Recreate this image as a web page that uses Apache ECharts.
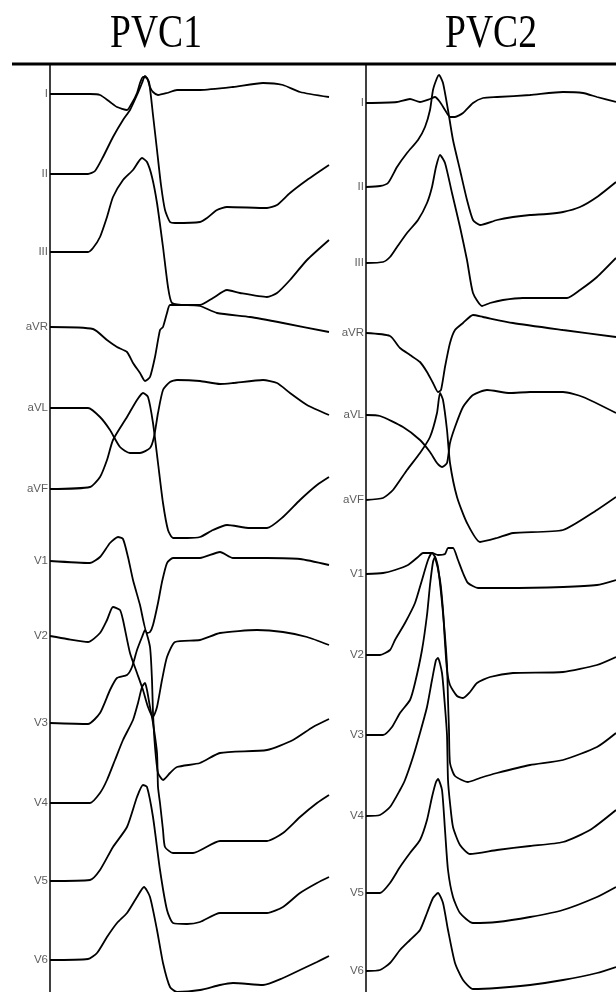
<!DOCTYPE html>
<html>
<head>
<meta charset="utf-8">
<script src="https://cdn.jsdelivr.net/npm/echarts@6/dist/echarts.min.js"></script>
<style>
  html, body { margin: 0; padding: 0; background: #fff; }
  #chart { width: 616px; height: 992px; }
</style>
</head>
<body>
<div id="chart"></div>
<script>
// lead names, top to bottom
var leads = ['I', 'II', 'III', 'aVR', 'aVL', 'aVF', 'V1', 'V2', 'V3', 'V4', 'V5', 'V6'];

// PVC1 traces: [sample, amplitude] (amplitude positive up)
var pvc1_I   = [[0,0],[40,0],[50,-1],[60,-8],[67,-13],[77,-16],[82,-9],[87,1],[90,11],[93,17],[97,16],[100,7],[103,2],[108,-1],[117,1],[127,4],[150,4],[183,7],[213,11],[233,9],[250,2],[279,-3]];
var pvc1_II  = [[0,0],[38,0],[45,3],[53,17],[63,37],[73,54],[80,64],[87,79],[92,91],[95,98],[99,92],[103,59],[107,24],[111,-11],[115,-36],[120,-48],[125,-49],[150,-48],[157,-44],[167,-36],[177,-33],[217,-34],[227,-31],[240,-19],[257,-6],[279,9]];
var pvc1_III = [[0,0],[38,0],[43,4],[50,15],[57,35],[63,55],[73,72],[83,82],[92,94],[97,90],[102,75],[107,49],[113,5],[118,-35],[122,-51],[137,-53],[150,-53],[163,-46],[177,-38],[190,-41],[217,-45],[227,-41],[240,-28],[257,-8],[279,12]];
var pvc1_aVR = [[0,0],[43,-2],[57,-13],[67,-20],[77,-25],[83,-36],[90,-46],[95,-54],[100,-50],[105,-30],[110,-3],[113,0],[117,14],[120,22],[137,22],[150,21],[167,14],[200,10],[233,4],[279,-5]];
var pvc1_aVL = [[0,0],[38,0],[50,-9],[60,-22],[70,-39],[80,-45],[90,-45],[100,-40],[104,-29],[108,-5],[113,18],[120,26],[127,28],[150,27],[170,24],[183,25],[213,28],[227,25],[240,15],[257,3],[279,-7]];
var pvc1_aVF = [[0,0],[40,2],[50,12],[57,29],[63,49],[77,72],[87,89],[93,96],[98,92],[103,66],[108,26],[113,-14],[118,-41],[123,-49],[137,-49],[150,-48],[163,-41],[177,-36],[200,-39],[217,-39],[233,-28],[250,-11],[267,4],[279,12]];
var pvc1_V1  = [[0,0],[40,-2],[50,4],[60,18],[68,24],[73,22],[78,4],[83,-19],[90,-44],[97,-72],[100,-71],[103,-64],[108,-42],[112,-21],[117,-2],[123,3],[150,3],[170,9],[183,3],[217,3],[250,2],[279,-4]];
var pvc1_V2  = [[0,0],[17,-3],[38,-6],[50,3],[57,16],[63,29],[70,26],[73,16],[80,-17],[87,-37],[93,-54],[98,-71],[103,-81],[107,-71],[112,-44],[117,-21],[125,-6],[150,-4],[170,3],[207,6],[233,4],[257,-1],[279,-9]];
var pvc1_V3  = [[0,0],[38,-1],[50,10],[60,33],[67,45],[77,48],[82,56],[87,73],[92,86],[95,93],[100,76],[102,43],[103,10],[105,-24],[108,-50],[113,-57],[120,-50],[127,-44],[150,-40],[170,-30],[217,-27],[243,-17],[263,-4],[279,4]];
var pvc1_V4  = [[0,0],[40,0],[50,10],[57,23],[65,43],[73,63],[83,83],[88,100],[92,116],[95,120],[97,113],[100,96],[103,80],[107,50],[108,16],[110,0],[113,-27],[115,-44],[123,-50],[143,-50],[170,-38],[217,-38],[233,-30],[250,-14],[267,0],[279,8]];
var pvc1_V5  = [[0,0],[40,1],[50,11],[63,34],[77,54],[87,84],[93,96],[97,94],[103,64],[110,11],[117,-29],[123,-42],[137,-43],[150,-41],[170,-32],[217,-32],[233,-26],[250,-12],[267,-2],[279,4]];
var pvc1_V6  = [[0,0],[38,1],[47,7],[57,23],[67,37],[77,47],[87,63],[94,73],[100,63],[107,30],[113,-3],[120,-27],[127,-32],[150,-30],[170,-25],[183,-23],[213,-25],[233,-18],[250,-10],[267,-2],[279,4]];

// PVC2 traces
var pvc2_I   = [[0,0],[31,1],[44,4],[54,1],[64,4],[69,6],[74,1],[79,-7],[84,-14],[89,-14],[97,-10],[107,0],[117,5],[131,6],[164,8],[197,11],[217,10],[231,6],[250,1]];
var pvc2_II  = [[0,0],[14,1],[22,4],[31,20],[41,34],[52,47],[59,60],[64,77],[67,97],[71,109],[73,112],[77,104],[82,77],[87,47],[94,17],[101,-13],[107,-33],[114,-38],[131,-33],[147,-30],[164,-28],[181,-27],[197,-25],[214,-20],[231,-10],[250,5]];
var pvc2_III = [[0,0],[17,1],[24,6],[31,16],[41,30],[52,43],[61,60],[66,76],[70,96],[74,108],[79,100],[86,70],[94,36],[101,3],[107,-30],[116,-43],[124,-40],[137,-37],[157,-35],[201,-35],[214,-27],[231,-14],[250,5]];
var pvc2_aVR = [[0,0],[24,-3],[34,-15],[44,-22],[54,-29],[61,-39],[67,-50],[72,-59],[75,-57],[79,-34],[84,-10],[89,3],[97,10],[107,18],[117,16],[147,10],[197,3],[250,-4]];
var pvc2_aVL = [[0,0],[14,-1],[37,-12],[54,-25],[64,-37],[71,-48],[76,-52],[81,-48],[84,-28],[89,-12],[97,8],[107,20],[121,25],[144,22],[164,23],[197,23],[217,18],[250,2]];
var pvc2_aVF = [[0,0],[17,2],[27,10],[41,30],[54,47],[64,63],[71,87],[74,107],[77,100],[81,70],[84,37],[91,3],[101,-23],[114,-42],[131,-38],[147,-33],[197,-30],[231,-10],[250,3]];
var pvc2_V1  = [[0,0],[17,1],[29,4],[42,9],[52,17],[57,21],[66,21],[72,19],[79,20],[82,26],[87,26],[92,14],[97,1],[102,-9],[112,-14],[139,-14],[197,-13],[231,-11],[250,-6]];
var pvc2_V2  = [[0,0],[14,0],[24,5],[29,15],[39,32],[49,52],[56,75],[62,95],[66,102],[69,98],[74,75],[77,45],[79,12],[81,-15],[84,-30],[91,-41],[97,-43],[104,-37],[111,-28],[124,-22],[147,-18],[197,-17],[231,-10],[250,-2]];
var pvc2_V3  = [[0,0],[17,0],[26,8],[34,22],[44,35],[49,52],[56,85],[61,120],[64,150],[67,173],[69,178],[72,168],[77,122],[81,70],[82,35],[83,5],[84,-28],[89,-41],[102,-47],[114,-43],[131,-38],[164,-30],[197,-25],[231,-12],[250,2]];
var pvc2_V4  = [[0,0],[14,1],[24,9],[34,26],[39,36],[47,59],[54,83],[61,109],[66,136],[70,156],[72,158],[76,143],[79,109],[81,81],[82,36],[84,13],[87,-11],[94,-29],[104,-38],[131,-34],[164,-30],[197,-26],[224,-14],[250,6]];
var pvc2_V5  = [[0,0],[14,0],[24,10],[34,26],[44,40],[54,53],[61,73],[66,96],[70,111],[72,114],[76,103],[79,63],[82,23],[87,-4],[94,-20],[107,-30],[131,-29],[164,-24],[197,-17],[231,-4],[250,6]];
var pvc2_V6  = [[0,0],[14,1],[24,8],[34,21],[44,31],[54,41],[61,58],[67,73],[72,78],[77,68],[82,41],[89,8],[97,-9],[107,-18],[131,-17],[164,-14],[197,-9],[231,-2],[250,4]];

var pvc1 = [pvc1_I, pvc1_II, pvc1_III, pvc1_aVR, pvc1_aVL, pvc1_aVF, pvc1_V1, pvc1_V2, pvc1_V3, pvc1_V4, pvc1_V5, pvc1_V6];
var pvc2 = [pvc2_I, pvc2_II, pvc2_III, pvc2_aVR, pvc2_aVL, pvc2_aVF, pvc2_V1, pvc2_V2, pvc2_V3, pvc2_V4, pvc2_V5, pvc2_V6];

window.onload = function() {
	drawChart();
}

function drawChart() {
	var myChart = echarts.init(document.getElementById('chart'));

	// row baselines in px from the top of the page (layout)
	var rowsLeft  = [94, 174, 252, 327, 408, 489, 561, 636, 723, 803, 881, 960];
	var rowsRight = [103, 187, 263, 333, 415, 500, 574, 655, 735, 816, 893, 971];
	var H = 992;

	var series = [];
	function addPanel(traces, rows, idx) {
		var labelPts = [];
		traces.forEach(function(tr, i) {
			var off = H - rows[i];
			series.push({
				type: 'line',
				xAxisIndex: idx,
				yAxisIndex: idx,
				data: tr.map(function(p) { return [p[0], off + p[1]]; }),
				showSymbol: false,
				smooth: 0.2,
				silent: true,
				lineStyle: { color: '#000', width: 1.8 }
			});
			labelPts.push([0, off + tr[0][1], leads[i]]);
		});
		// lead names at the start of each trace
		series.push({
			type: 'scatter',
			xAxisIndex: idx,
			yAxisIndex: idx,
			symbolSize: 0,
			silent: true,
			data: labelPts,
			label: {
				show: true,
				position: 'left',
				distance: 2,
				formatter: function(p) { return p.value[2]; },
				fontFamily: 'Liberation Sans',
				fontSize: 11.5,
				color: '#333'
			}
		});
	}
	addPanel(pvc1, rowsLeft, 0);
	addPanel(pvc2, rowsRight, 1);

	var yAx = {
		type: 'value', min: 0, max: 927,
		axisLine: { show: true, lineStyle: { color: '#000', width: 1.5 } },
		axisTick: { show: false }, axisLabel: { show: false }, splitLine: { show: false }
	};

	option = {
		animation: false,
		backgroundColor: '#fff',
		grid: [
			{ left: 50, top: 65, width: 280, height: 927 },
			{ left: 366, top: 65, width: 250, height: 927 }
		],
		xAxis: [
			{ type: 'value', gridIndex: 0, min: 0, max: 280, show: false },
			{ type: 'value', gridIndex: 1, min: 0, max: 250, show: false }
		],
		yAxis: [
			Object.assign({ gridIndex: 0 }, yAx),
			Object.assign({ gridIndex: 1 }, yAx)
		],
		graphic: [
			{ type: 'line', shape: { x1: 12, y1: 64, x2: 616, y2: 64 }, style: { stroke: '#000', lineWidth: 3 } },
			{ type: 'text', x: 156, y: 35, scaleX: 0.8,
			  style: { text: 'PVC1', fontFamily: 'Liberation Serif', fontSize: 47, fill: '#000', align: 'center', verticalAlign: 'middle' } },
			{ type: 'text', x: 491, y: 35, scaleX: 0.8,
			  style: { text: 'PVC2', fontFamily: 'Liberation Serif', fontSize: 47, fill: '#000', align: 'center', verticalAlign: 'middle' } }
		],
		series: series
	};

	myChart.setOption(option);
}
</script>
</body>
</html>
